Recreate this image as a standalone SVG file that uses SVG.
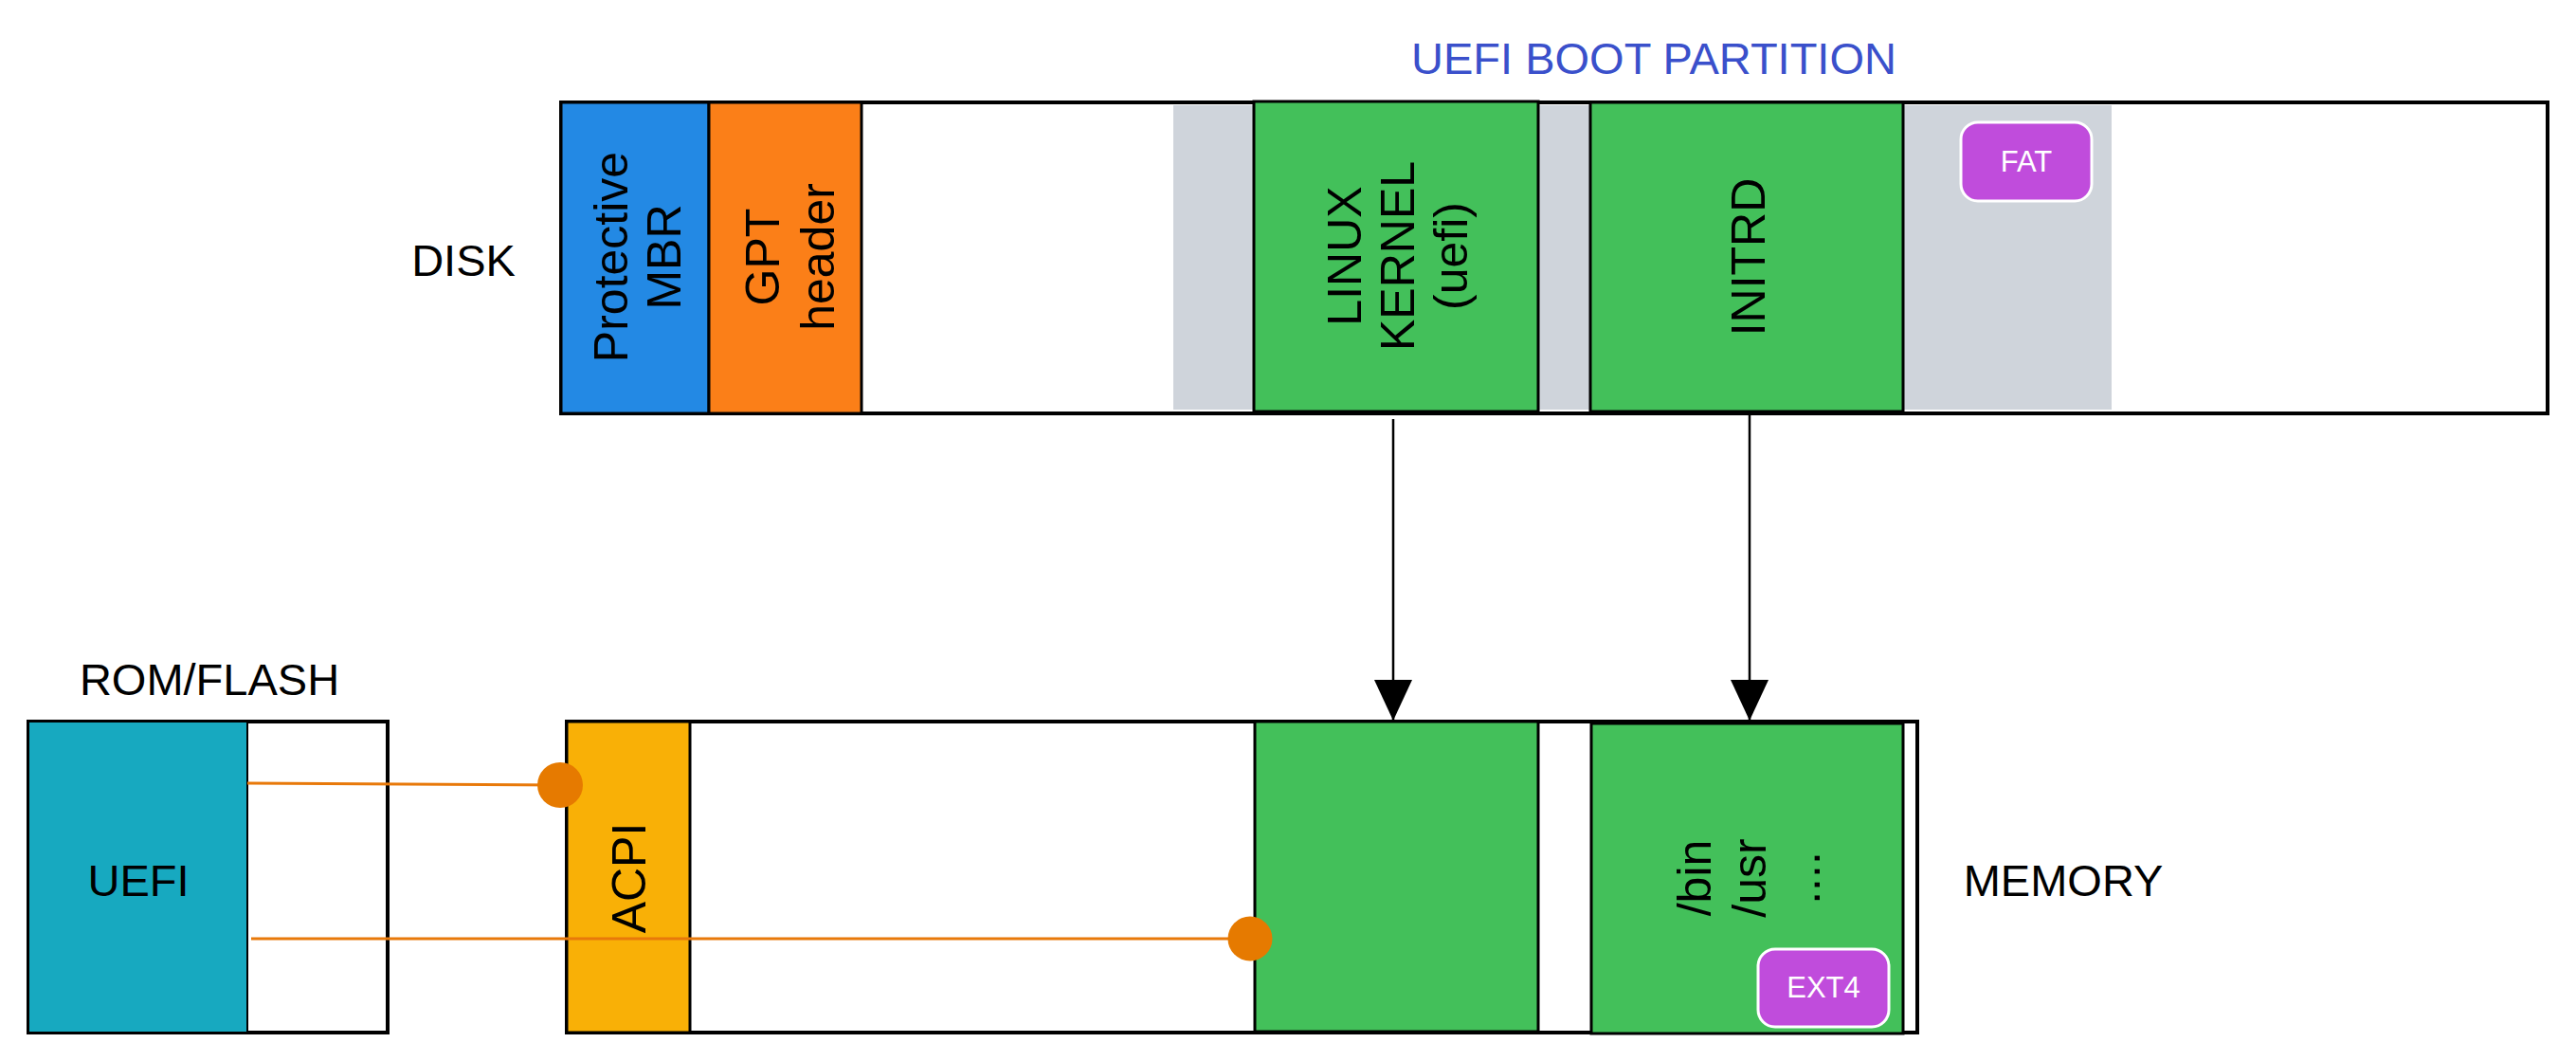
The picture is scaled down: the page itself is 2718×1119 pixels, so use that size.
<svg xmlns="http://www.w3.org/2000/svg" width="2718" height="1119" viewBox="0 0 2718 1119">
<defs>
<style>
.lbl{font-family:"Liberation Sans",Arial,sans-serif;font-size:47px;fill:#000;text-anchor:middle}
.rot{font-family:"Liberation Sans",Arial,sans-serif;font-size:50px;fill:#000;text-anchor:middle}
.badge{fill:#C04CDC;stroke:#fff;stroke-width:3}
.btxt{font-family:"Liberation Sans",Arial,sans-serif;font-size:31px;fill:#fff;text-anchor:middle}
.box{stroke:#000;stroke-width:3}
.outer{fill:#fff;stroke:#000;stroke-width:4}
.green{fill:#43C05A}
.gray{fill:#CFD4DB}
.arrow{stroke:#000;stroke-width:2.5;fill:none}
.oline{stroke:#E8790A;stroke-width:3;fill:none}
.dot{fill:#E67A00}
</style>
<marker id="ah" markerUnits="userSpaceOnUse" markerWidth="44" markerHeight="42" refX="43" refY="20" orient="auto" viewBox="0 0 44 42">
<path d="M0,0 L43,20 L0,40 Z" fill="#000"/>
</marker>
</defs>
<rect width="2718" height="1119" fill="#fff"/>

<text id="title" x="1745" y="78" class="lbl" style="fill:#3A50CB">UEFI BOOT PARTITION</text>

<g id="disk">
<rect class="outer" x="592" y="108" width="2096" height="328"/>
<text class="lbl" x="489" y="291">DISK</text>
<rect class="gray" x="1238" y="111" width="990" height="321"/>
</g>
<g id="protective-mbr">
<rect class="box" x="592" y="108" width="156" height="328" fill="#2389E4"/>
<text class="rot" transform="translate(662,271) rotate(-90)"><tspan x="0" y="0">Protective</tspan><tspan x="0" y="56">MBR</tspan></text>
</g>
<g id="gpt-header">
<rect class="box" x="748" y="108" width="161" height="328" fill="#FB7F18"/>
<text class="rot" transform="translate(822,271) rotate(-90)"><tspan x="0" y="0">GPT</tspan><tspan x="0" y="58">header</tspan></text>
</g>
<g id="linux-kernel">
<rect class="box green" x="1323" y="107" width="300" height="327"/>
<text class="rot" transform="translate(1436,270) rotate(-90)"><tspan x="0" y="0">LINUX</tspan><tspan x="0" y="56">KERNEL</tspan><tspan x="0" y="112">(uefi)</tspan></text>
</g>
<g id="initrd">
<rect class="box green" x="1678" y="108" width="330" height="326"/>
<text class="rot" transform="translate(1862,271) rotate(-90)"><tspan x="0" y="0">INITRD</tspan></text>
</g>
<g id="fat">
<rect class="badge" x="2069" y="129" width="138" height="83" rx="18"/>
<text class="btxt" x="2138" y="181">FAT</text>
</g>

<g id="rom-flash">
<text class="lbl" x="221" y="733">ROM/FLASH</text>
<rect class="outer" x="30" y="761" width="379" height="328"/>
<rect class="box" x="30" y="761" width="231" height="328" fill="#17A9C0" style="stroke-width:2"/>
<text class="lbl" x="146" y="945">UEFI</text>
</g>

<g id="memory">
<rect class="outer" x="598" y="761" width="1425" height="328"/>
<text class="lbl" x="2177" y="945">MEMORY</text>
</g>
<g id="acpi">
<rect class="box" x="598" y="761" width="130" height="328" fill="#F9B006"/>
<text class="rot" transform="translate(681,926) rotate(-90)"><tspan x="0" y="0">ACPI</tspan></text>
</g>
<g id="kernel-mem">
<rect class="box green" x="1324" y="761" width="299" height="327"/>
</g>
<g id="initrd-mem">
<rect class="box green" x="1679" y="763" width="329" height="327"/>
<text class="rot" transform="translate(1805,926) rotate(-90)"><tspan x="0" y="0">/bin</tspan><tspan x="0" y="58">/usr</tspan><tspan x="0" y="115">....</tspan></text>
<rect class="badge" x="1855" y="1001" width="138" height="82" rx="18"/>
<text class="btxt" x="1924" y="1052">EXT4</text>
</g>

<g id="connectors">
<line class="arrow" x1="1470" y1="442" x2="1470" y2="760" marker-end="url(#ah)"/>
<line class="arrow" x1="1846" y1="437" x2="1846" y2="760" marker-end="url(#ah)"/>
<line class="oline" x1="261" y1="826" x2="592" y2="828"/>
<circle class="dot" cx="591" cy="828" r="24"/>
<line class="oline" x1="265" y1="990" x2="1319" y2="990"/>
<circle class="dot" cx="1319" cy="990" r="23.5"/>
</g>
</svg>
